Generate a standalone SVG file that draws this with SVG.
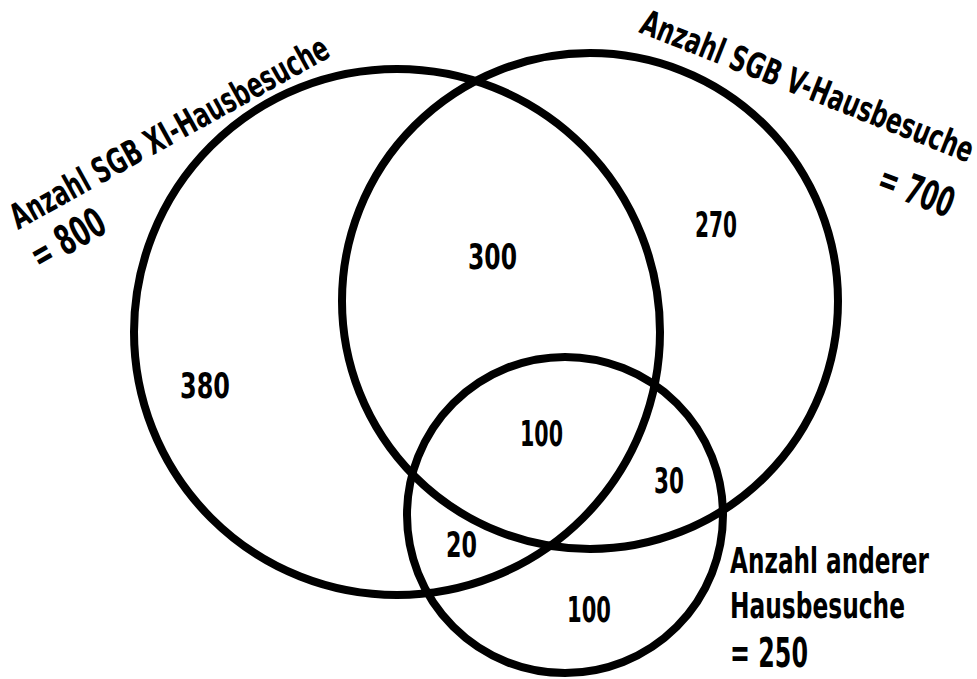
<svg xmlns="http://www.w3.org/2000/svg" width="977" height="679" viewBox="0 0 977 679">
<style>
.c{fill:none;stroke:#000;stroke-width:8}
.t{font-family:"DejaVu Sans Condensed","DejaVu Sans",sans-serif;font-stretch:condensed;font-weight:700;fill:#000}
.n{font-size:36px}
.l{font-size:35px}
.b{font-size:41px}
</style>
<rect width="977" height="679" fill="#fff"/>
<g id="sgb-xi">
<circle class="c" cx="397" cy="332" r="263"/>
<text class="t l" transform="translate(18,230) rotate(-29)" textLength="359" lengthAdjust="spacingAndGlyphs">Anzahl SGB XI-Hausbesuche</text>
<text class="t b" transform="translate(40,271) rotate(-30)" textLength="80" lengthAdjust="spacingAndGlyphs">= 800</text>
<text class="t n" x="180" y="398" textLength="50" lengthAdjust="spacingAndGlyphs">380</text>
</g>
<g id="sgb-v">
<circle class="c" cx="590" cy="301" r="248"/>
<text class="t l" transform="translate(638,32) rotate(21.6)" textLength="355" lengthAdjust="spacingAndGlyphs">Anzahl SGB V-Hausbesuche</text>
<text class="t b" transform="translate(875,190) rotate(21)" textLength="78" lengthAdjust="spacingAndGlyphs">= 700</text>
<text class="t n" x="695" y="237" textLength="42" lengthAdjust="spacingAndGlyphs">270</text>
</g>
<g id="andere">
<circle class="c" cx="565" cy="515" r="158"/>
<text class="t n" x="730" y="573" textLength="199" lengthAdjust="spacingAndGlyphs">Anzahl anderer</text>
<text class="t n" x="730" y="618" textLength="175" lengthAdjust="spacingAndGlyphs">Hausbesuche</text>
<text class="t b" x="730" y="667" textLength="78" lengthAdjust="spacingAndGlyphs">= 250</text>
<text class="t n" x="567" y="622" textLength="44" lengthAdjust="spacingAndGlyphs">100</text>
</g>
<g id="overlaps">
<text class="t n" x="468" y="269" textLength="49" lengthAdjust="spacingAndGlyphs">300</text>
<text class="t n" x="520" y="446" textLength="43" lengthAdjust="spacingAndGlyphs">100</text>
<text class="t n" x="654" y="493" textLength="30" lengthAdjust="spacingAndGlyphs">30</text>
<text class="t n" x="446" y="557" textLength="31" lengthAdjust="spacingAndGlyphs">20</text>
</g>
<g id="connectors"/>
</svg>
